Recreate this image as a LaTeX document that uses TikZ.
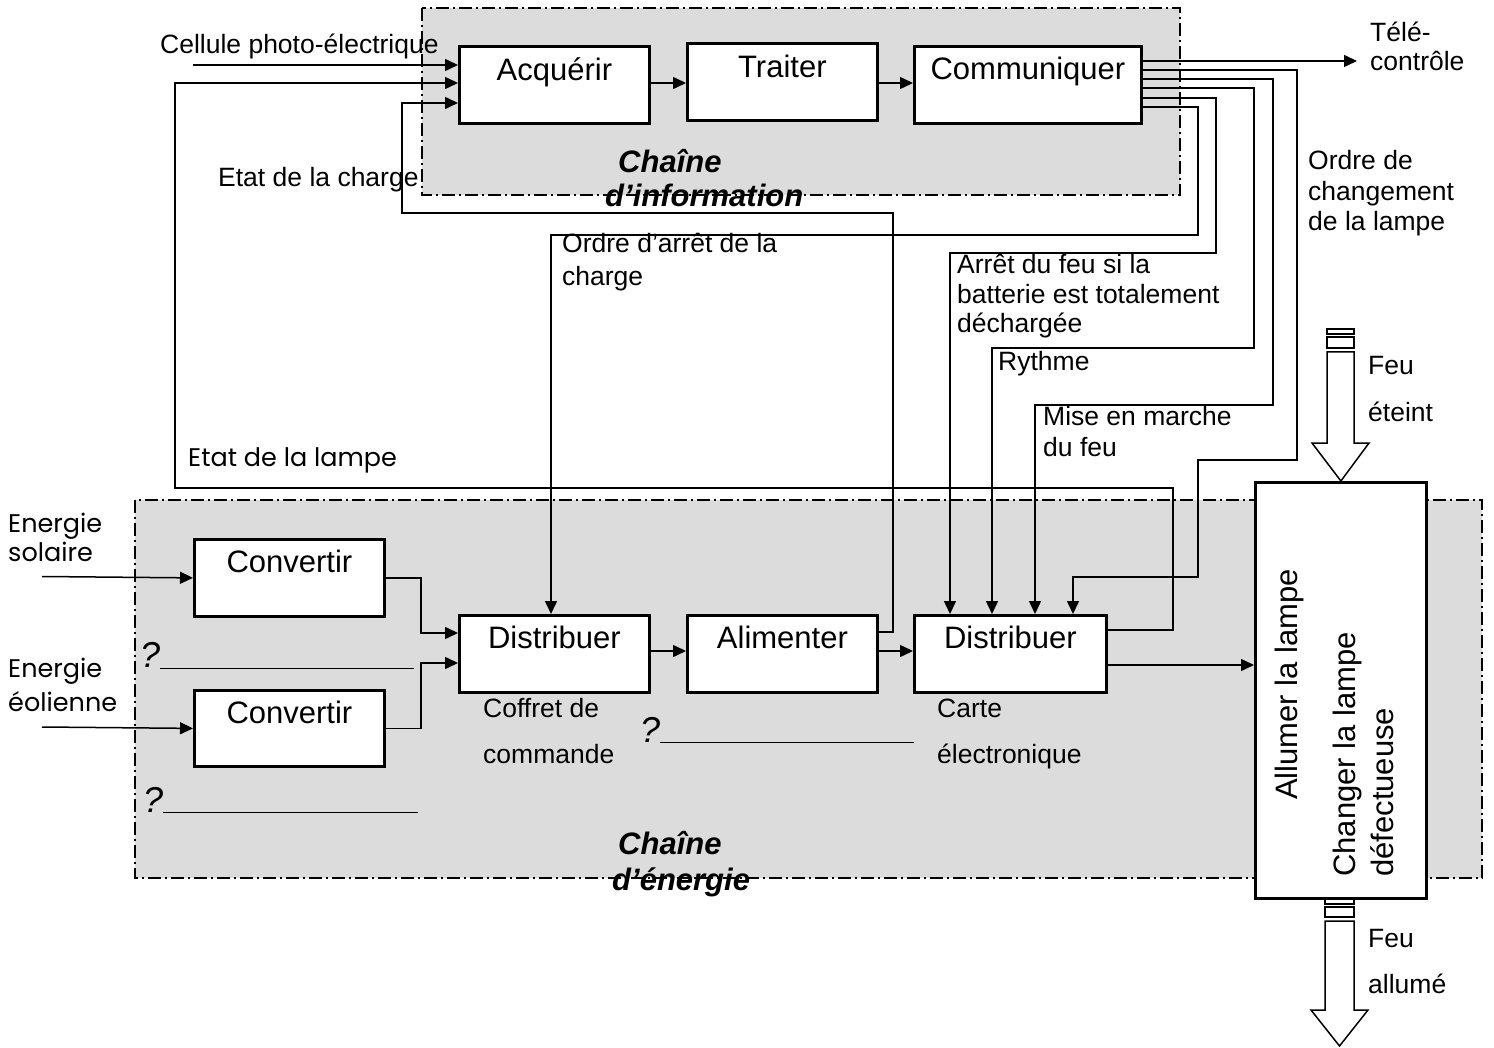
\documentclass[tikz,border=0pt]{standalone}
\usepackage{fontspec}
\setmainfont{Liberation Sans}
\newfontfamily\geo{Poppins}
\usetikzlibrary{arrows.meta,calc}
\definecolor{zonegray}{HTML}{DCDCDC}
\begin{document}
\begin{tikzpicture}[x=1pt,y=-1pt,
  box/.style={draw,line width=2.8pt,fill=white,minimum width=190pt,minimum height=77pt,anchor=north west,inner sep=0pt},
  btxt/.style={font=\fontsize{31}{36}\selectfont,anchor=base,inner sep=0pt},
  lbl/.style={font=\fontsize{26.5}{30}\selectfont,anchor=base west,inner sep=0pt},
  geolbl/.style={font=\geo\fontsize{25.5}{30}\selectfont,anchor=base west,inner sep=0pt},
  chain/.style={font=\bfseries\itshape\fontsize{31}{36}\selectfont,anchor=base west,inner sep=0pt},
  qm/.style={font=\itshape\fontsize{36}{38}\selectfont,anchor=base west,inner sep=0pt},
  zone/.style={fill=zonegray,draw=black,line width=1.3pt,dash pattern=on 13pt off 4pt on 2pt off 4pt},
  wire/.style={line width=1.5pt},
  arr/.style={wire,-{Triangle[length=13pt,width=12pt]}},
  bigarrow/.style={draw,line width=1.5pt,fill=white}
]
\useasboundingbox (0,0) rectangle (1494,1048);

% zones
\path[zone] (422,8) rectangle (1180,195);
\path[zone] (135,500) rectangle (1482,878);

% boxes
\node[box] (acq) at (458,45) {};
\node[box] (trt) at (686,42) {};
\node[box,minimum width=227pt] (com) at (913,45) {};
\node[box] (cv1) at (193,538) {};
\node[box,minimum height=76pt] (cv2) at (193,689) {};
\node[box] (d1) at (458,614) {};
\node[box] (alim) at (686,614) {};
\node[box,minimum width=192pt] (d2) at (913,614) {};

\node[btxt] (acq-t) at ([yshift=-36pt]acq.north) {Acquérir};
\node[btxt] (trt-t) at ([yshift=-36pt]trt.north) {Traiter};
\node[btxt] (com-t) at ([yshift=-35pt]com.north) {Communiquer};
\node[btxt] (cv1-t) at ([yshift=-34pt]cv1.north) {Convertir};
\node[btxt] (cv2-t) at ([yshift=-34pt]cv2.north) {Convertir};
\node[btxt] (d1-t) at ([yshift=-34pt]d1.north) {Distribuer};
\node[btxt] (alim-t) at ([yshift=-34pt]alim.north) {Alimenter};
\node[btxt] (d2-t) at ([yshift=-34pt]d2.north) {Distribuer};

% free ends
\coordinate (cellsrc) at (193,65);
\coordinate (tele) at (1357,61);
\coordinate (sol) at (42,576.5);
\coordinate (eol) at (42,727);

% information chain connectors
\draw[arr] (cellsrc) -- ([yshift=-20pt]acq.north west);
\draw[arr] ([yshift=-16pt]d2.north east) -| (1173,488) -| (175,83) -- ([yshift=-38pt]acq.north west);
\draw[arr] ([yshift=-18pt]alim.north east) -| (893,213) -| (402,103) -- ([yshift=-58pt]acq.north west);
\draw[arr] ([yshift=-38pt]acq.north east) -- ([yshift=-41pt]trt.north west);
\draw[arr] ([yshift=-41pt]trt.north east) -- ([yshift=-38pt]com.north west);

\draw[arr] ([yshift=-16pt]com.north east) -- (tele);
\draw[arr] ([yshift=-25pt]com.north east) -| (1297,460) -| (1198,577) -| ([xshift=160pt]d2.north west);
\draw[arr] ([yshift=-34pt]com.north east) -| (1273,405) -| ([xshift=122pt]d2.north west);
\draw[arr] ([yshift=-43pt]com.north east) -| (1254,348) -| ([xshift=79pt]d2.north west);
\draw[arr] ([yshift=-53pt]com.north east) -| (1216,253) -| ([xshift=37pt]d2.north west);
\draw[arr] ([yshift=-62pt]com.north east) -| (1198,235) -| ([xshift=93pt]d1.north west);

% energy chain connectors
\draw[arr] (sol) -- (cv1.west);
\draw[arr] (eol) -- (cv2.west);
\draw[arr] (cv1.east) -| (421,633) -- ([yshift=-19pt]d1.north west);
\draw[arr] (cv2.east) -| (421,663) -- ([yshift=-49pt]d1.north west);
\draw[arr] ([yshift=-37pt]d1.north east) -- ([yshift=-37pt]alim.north west);
\draw[arr] ([yshift=-37pt]alim.north east) -- ([yshift=-37pt]d2.north west);

% lamp box
\node[box,minimum width=171pt,minimum height=416pt] (lamp) at (1254,481) {};
\coordinate (d2out) at ([yshift=-51pt]d2.north east);
\draw[arr] (d2out) -- (d2out -| lamp.west);
\node[btxt,rotate=90,anchor=base west] (lt1) at (1297,800) {Allumer la lampe};
\node[btxt,rotate=90,anchor=base west] (lt2) at (1355,877) {Changer la lampe};
\node[btxt,rotate=90,anchor=base west] (lt3) at (1393,877) {défectueuse};

% big arrows
\draw[bigarrow] (1327,329) rectangle (1354,334);
\draw[bigarrow] (1327,337) rectangle (1354,348);
\draw[bigarrow] (1327,352) -- (1354,352) -- (1354,443) -- (1369,443) -- (lamp.north) -- (1312,443) -- (1327,443) -- cycle;
\draw[bigarrow] (1325,899) rectangle (1354,904);
\draw[bigarrow] (1325,907) rectangle (1354,917);
\coordinate (tipb) at (1339.5,1046);
\draw[bigarrow] (1325,921) -- (1354,921) -- (1354,1010) -- (1368,1010) -- (tipb) -- (1311,1010) -- (1325,1010) -- cycle;

% labels
\node[lbl] (l-cell) at (160,54) {Cellule photo-électrique};
\node[lbl] (l-charge) at (218,187) {Etat de la charge};
\node[geolbl] (l-lampe) at (188,466) {Etat de la lampe};
\node[lbl] (l-ordre1) at (562,253) {Ordre d’arrêt de la};
\node[lbl] (l-ordre2) at (562,286) {charge};
\node[lbl] (l-tele1) at (1370,42) {Télé-};
\node[lbl] (l-tele2) at (1370,71) {contrôle};
\node[lbl] (l-chg1) at (1308,170) {Ordre de};
\node[lbl] (l-chg2) at (1308,201) {changement};
\node[lbl] (l-chg3) at (1308,231) {de la lampe};
\node[lbl] (l-arr1) at (957,274) {Arrêt du feu si la};
\node[lbl] (l-arr2) at (957,304) {batterie est totalement};
\node[lbl] (l-arr3) at (957,333) {déchargée};
\node[lbl] (l-ryt) at (998,371) {Rythme};
\node[lbl] (l-mise1) at (1043,425) {Mise en marche};
\node[lbl] (l-mise2) at (1043,456) {du feu};
\node[lbl] (l-fe1) at (1368,375) {Feu};
\node[lbl] (l-fe2) at (1368,421) {éteint};
\node[lbl] (l-fa1) at (1368,947) {Feu};
\node[lbl] (l-fa2) at (1368,993) {allumé};
\node[lbl] (l-cof1) at (483,717) {Coffret de};
\node[lbl] (l-cof2) at (483,763) {commande};
\node[lbl] (l-car1) at (937,717) {Carte};
\node[lbl] (l-car2) at (937,763) {électronique};
\node[geolbl] (l-sol1) at (8,532) {Energie};
\node[geolbl] (l-sol2) at (8,561) {solaire};
\node[geolbl] (l-eol1) at (8,677) {Energie};
\node[geolbl] (l-eol2) at (8,711) {éolienne};

\node[chain] (ci1) at (618,173) {Chaîne};
\node[chain] (ci2) at (605,207) {d’information};
\node[chain] (ce1) at (618,854) {Chaîne};
\node[chain] (ce2) at (612,890) {d’énergie};

\node[qm] (q1) at (140,667) {?\rule[-2pt]{254pt}{0.9pt}};
\node[qm] (q2) at (143,812) {?\rule[-1pt]{255pt}{0.9pt}};
\node[qm] (q3) at (640,742) {?\rule[-1pt]{254pt}{0.9pt}};
\end{tikzpicture}
\end{document}
